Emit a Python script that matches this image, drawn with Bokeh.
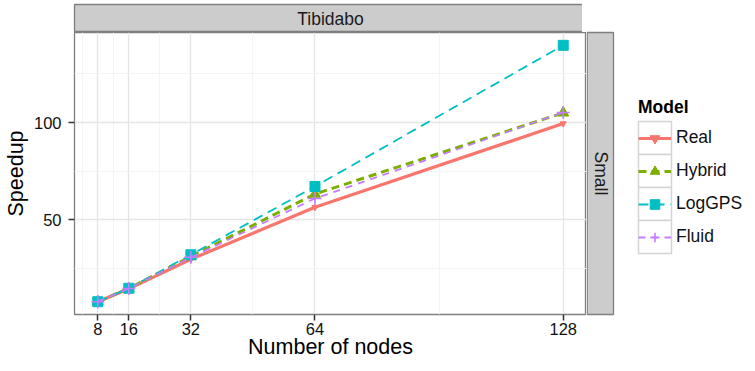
import math
from bokeh.plotting import figure
from bokeh.layouts import row, column
from bokeh.models import FixedTicker, Label, Legend, LegendItem, Range1d
from bokeh.embed import file_html
from bokeh.resources import INLINE

# ---- data ----
nodes = [8, 16, 32, 64, 128]
real = [8.0, 14.6, 29.8, 56.5, 99.5]
hybrid = [8.0, 14.8, 31.2, 63.3, 105.0]
loggps = [8.0, 14.9, 32.1, 67.2, 139.7]
fluid = [8.0, 14.8, 30.8, 61.0, 105.2]
series_names = ["Real", "Hybrid", "LogGPS", "Fluid"]
x_ticks = [8, 16, 32, 64, 128]
x_minor = [4, 12, 24, 48, 96]
y_ticks = [50, 100]
y_minor = [25, 75, 125]
facet_col = "Tibidabo"
facet_row = "Small"
legend_title = "Model"

colors = ["#F8766D", "#7CAE00", "#00BFC4", "#C77CFF"]
FONT = "Liberation Sans"
STRIP_FILL = "#CCCCCC"
BORDER = "#7F7F7F"

# ---- layout constants (pixels) ----
PADT = 4                     # space above the top strip
FL, FW, FH = 70, 512, 282    # main panel: left border, frame width/height
FB = 49                      # bottom border of main panel
ST = 28                      # strip thickness (top)
SR = 27                      # strip thickness (right)
RW = 157                     # width of right part (strip + legend)
TOTAL_H = PADT + ST + FH + FB

# ranges with ggplot-like 5% expansion
all_y = real + hybrid + loggps + fluid
x0 = min(nodes) - 0.05 * (max(nodes) - min(nodes))
x1 = max(nodes) + 0.05 * (max(nodes) - min(nodes))
y0 = min(all_y) - 0.05 * (max(all_y) - min(all_y))
y1 = max(all_y) + 0.05 * (max(all_y) - min(all_y))

# ---- main panel ----
p = figure(frame_width=FW, frame_height=FH, output_backend="svg", toolbar_location=None,
           min_border_left=FL, min_border_top=0, min_border_right=0, min_border_bottom=FB,
           x_range=Range1d(x0, x1), y_range=Range1d(y0, y1))
p.background_fill_color = "white"
p.border_fill_color = "white"
p.outline_line_color = BORDER
p.outline_line_width = 1.3

p.xaxis.ticker = FixedTicker(ticks=x_ticks, minor_ticks=x_minor)
p.yaxis.ticker = FixedTicker(ticks=y_ticks, minor_ticks=y_minor)
for ax in (p.xaxis, p.yaxis):
    ax.axis_line_color = None
    ax.minor_tick_line_color = None
    ax.major_tick_line_color = "#333333"
    ax.major_tick_line_width = 1.5
    ax.major_tick_out = 6
    ax.major_tick_in = 0
    ax.major_label_text_font = FONT
    ax.major_label_text_font_size = "16.5px"
    ax.major_label_text_color = "#111111"
    ax.axis_label_text_font = FONT
    ax.axis_label_text_font_size = "21.5px"
    ax.axis_label_text_font_style = "normal"
    ax.axis_label_text_color = "#000000"
p.xaxis.axis_label = "Number of nodes"
p.yaxis.axis_label = "Speedup"
p.xaxis.major_label_standoff = 2
p.xaxis.axis_label_standoff = -3
p.yaxis.major_label_standoff = 7
p.yaxis.axis_label_standoff = 3

for g in (p.xgrid, p.ygrid):
    g.grid_line_color = "#E5E5E5"
    g.grid_line_width = 1.3
    g.minor_grid_line_color = "#F4F4F4"
    g.minor_grid_line_width = 1.0

styles = [
    dict(lw=3.2, dash="solid", marker="inverted_triangle", msize=6, mlw=1.0),
    dict(lw=3.0, dash="8 5", marker="triangle", msize=11, mlw=1.0),
    dict(lw=1.8, dash="10 6", marker="square", msize=10, mlw=1.0),
    dict(lw=1.8, dash="7 6", marker="cross", msize=13, mlw=1.6),
]
values = [real, hybrid, loggps, fluid]


def add_series(fig, xs, ys, col, st):
    lr = fig.line(xs, ys, line_color=col, line_width=st["lw"], line_dash=st["dash"])
    if st["marker"] == "cross":
        sr = fig.scatter(xs, ys, marker="cross", size=st["msize"], line_color=col,
                         line_width=st["mlw"])
    else:
        sr = fig.scatter(xs, ys, marker=st["marker"], size=st["msize"], fill_color=col,
                         line_color=col, line_width=st["mlw"])
    return lr, sr


for vals, col, st in zip(values, colors, styles):
    add_series(p, nodes, vals, col, st)

# ---- top strip ----
top = figure(frame_width=FW, frame_height=ST, output_backend="svg", toolbar_location=None,
             min_border_left=FL, min_border_top=PADT, min_border_right=0, min_border_bottom=0,
             x_range=Range1d(0, 1), y_range=Range1d(0, 1),
             x_axis_location=None, y_axis_location=None)
top.grid.visible = False
top.background_fill_color = STRIP_FILL
top.border_fill_color = "white"
top.outline_line_color = BORDER
top.outline_line_width = 1.3
top.add_layout(Label(x=0.5, y=0.5, text=facet_col, text_align="center", text_baseline="middle",
                     text_font=FONT, text_font_size="17.5px", text_color="#1A1A1A"))

# ---- right part: strip + legend (pixel canvas, y downwards) ----
rp = figure(frame_width=RW, frame_height=TOTAL_H, output_backend="svg", toolbar_location=None,
            min_border=0, x_range=Range1d(0, RW), y_range=Range1d(TOTAL_H, 0),
            x_axis_location=None, y_axis_location=None)
rp.grid.visible = False
rp.outline_line_color = None
rp.background_fill_color = "white"
rp.border_fill_color = "white"
rp.quad(left=0.65, right=SR, top=PADT + ST, bottom=PADT + ST + FH, fill_color=STRIP_FILL,
        line_color=BORDER, line_width=1.3)
rp.text(x=[SR / 2 + 0.5], y=[PADT + ST + FH / 2], text=[facet_row], angle=-math.pi / 2,
        text_align="center", text_baseline="middle", text_font_size="17.5px",
        text_color="#1A1A1A", text_font={"value": FONT})

# legend: key boxes of 33 px, legend cells of 24 px (smaller markers) centred in them
KX, KW, KBOX = 52, 33, 33
CELL = 24
BOX_TOP = 121
C0 = BOX_TOP + (KBOX - CELL) / 2
for i in range(4):
    rp.quad(left=KX, right=KX + KW, top=BOX_TOP + i * KBOX, bottom=BOX_TOP + (i + 1) * KBOX,
            fill_color="white", line_color="#D4D4D4", line_width=1.5)

nan = float("nan")
items = []
for name, col, st in zip(series_names, colors, styles):
    lr, sr = add_series(rp, [nan], [nan], col, st)
    items.append(LegendItem(label=name, renderers=[lr, sr]))

legend_bottom = C0 + 3 * KBOX + CELL
legend = Legend(items=items, location=(KX, TOTAL_H - legend_bottom), title=legend_title,
                glyph_width=KW, glyph_height=CELL, label_height=CELL, label_width=20,
                label_standoff=5, spacing=KBOX - CELL, padding=0, margin=0,
                border_line_color=None, background_fill_alpha=0.0,
                label_text_font=FONT, label_text_font_size="17.5px", label_text_color="#111111",
                title_text_font=FONT, title_text_font_size="17.5px", title_text_font_style="bold",
                title_text_color="#000000", title_standoff=8)
rp.add_layout(legend)

layout = row(column(top, p, spacing=0), rp, spacing=0)
open("out.html", "w").write(file_html(layout, INLINE))
